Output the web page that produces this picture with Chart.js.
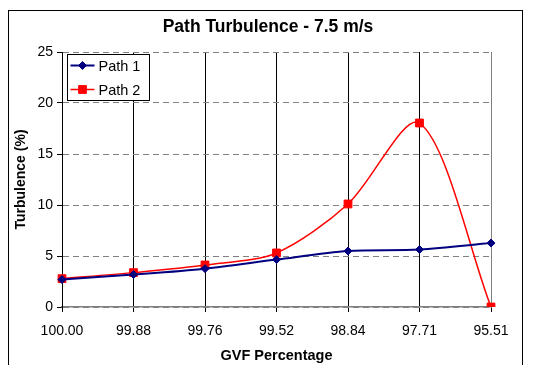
<!DOCTYPE html>
<html>
<head>
<meta charset="utf-8">
<script src="https://cdn.jsdelivr.net/npm/chart.js@4.4.1/dist/chart.umd.min.js"></script>
<style>
    html, body { margin: 0; padding: 0; background: #ffffff; }
    #wrap { position: relative; width: 544px; height: 365px; }
</style>
</head>
<body>
<div id="wrap"><canvas id="turbChart"></canvas></div>
<script>
/* ==========================================================
   DATA
========================================================== */

const chartTitle = "Path Turbulence - 7.5 m/s";

const gvfLabels = ["100.00", "99.88", "99.76", "99.52", "98.84", "97.71", "95.51"];

const path1 = [2.69, 3.18, 3.76, 4.65, 5.49, 5.63, 6.27];

const path2 = [2.78, 3.37, 4.12, 5.30, 10.10, 18.04, 0.0];

const yTicks = [0, 5, 10, 15, 20, 25];

const FONT = "Arial, 'Liberation Sans', sans-serif";

/* ==========================================================
   PLUGINS
========================================================== */

// outer frame, title and legend box inside the plot
const framePlugin = {
    id: "frame",
    afterDraw(chart) {
        const ctx = chart.ctx;
        const area = chart.chartArea;
        ctx.save();
        ctx.strokeStyle = "#000000";
        ctx.lineWidth = 1;
        ctx.strokeRect(8.5, 10.5, 514, 370);

        // title
        ctx.fillStyle = "#000000";
        ctx.font = "bold 17.5px " + FONT;
        ctx.textAlign = "center";
        ctx.textBaseline = "middle";
        ctx.fillText(chartTitle, 268, 27);

        // legend
        const bx = area.left + 5.5;
        const by = area.top + 2.5;
        ctx.fillStyle = "#ffffff";
        ctx.fillRect(bx, by, 82, 46);
        ctx.strokeRect(bx, by, 82, 46);

        chart.data.datasets.forEach((ds, i) => {
            const y = by + 11 + i * 24;
            ctx.strokeStyle = ds.borderColor;
            ctx.lineWidth = ds.borderWidth;
            ctx.beginPath();
            ctx.moveTo(bx + 3, y);
            ctx.lineTo(bx + 27, y);
            ctx.stroke();
            ctx.fillStyle = ds.borderColor;
            ctx.lineWidth = 1;
            Chart.helpers.drawPoint(ctx, {
                pointStyle: ds.pointStyle,
                radius: ds.pointRadius,
                borderWidth: 1
            }, bx + 15, y);
            ctx.fillStyle = "#000000";
            ctx.font = "14.5px " + FONT;
            ctx.textAlign = "left";
            ctx.textBaseline = "middle";
            ctx.fillText(ds.label, bx + 31, y + 1);
        });
        ctx.restore();
    }
};

/* ==========================================================
   CHART
========================================================== */

const ctx = document.getElementById("turbChart").getContext("2d");

const turbChart = new Chart(ctx, {
    type: "line",
    data: {
        labels: gvfLabels,
        datasets: [
            {
                label: "Path 1",
                data: path1,
                borderColor: "#000080",
                backgroundColor: "#000080",
                pointBackgroundColor: "#000080",
                pointBorderColor: "#000080",
                borderWidth: 2,
                pointStyle: "rectRot",
                pointRadius: 4,
                pointBorderWidth: 1,
                tension: 0.3
            },
            {
                label: "Path 2",
                data: path2,
                borderColor: "#ff0000",
                backgroundColor: "#ff0000",
                pointBackgroundColor: "#ff0000",
                pointBorderColor: "#ff0000",
                borderWidth: 1.5,
                pointStyle: "rect",
                pointRadius: 5.5,
                pointBorderWidth: 1,
                tension: 0.3
            }
        ]
    },
    options: {
        responsive: true,
        maintainAspectRatio: false,
        animation: false,
        layout: {
            padding: { top: 52, right: 53, bottom: 0, left: 13 }
        },
        plugins: {
            legend: { display: false },
            tooltip: { enabled: false },
            title: { display: false }
        },
        scales: {
            x: {
                type: "category",
                offset: false,
                afterFit: s => { s.height = 58; },
                grid: {
                    color: c => c.index === gvfLabels.length - 1 ? "#808080" : "#000000",
                    lineWidth: 1,
                    tickLength: 5,
                    tickColor: "#000000"
                },
                border: { color: "#808080", width: 1.5 },
                ticks: {
                    color: "#000000",
                    font: { family: FONT, size: 14 },
                    padding: 11,
                    maxRotation: 0
                },
                title: {
                    display: true,
                    text: "GVF Percentage",
                    color: "#000000",
                    font: { family: FONT, size: 14.5, weight: "bold" },
                    padding: { top: 4, bottom: 0 }
                }
            },
            y: {
                min: 0,
                max: 25,
                afterFit: s => { s.width = 49; },
                afterBuildTicks: s => { s.ticks = yTicks.map(v => ({ value: v })); },
                grid: {
                    color: "#808080",
                    lineWidth: 1,
                    tickLength: 5,
                    tickColor: "#000000",
                    tickBorderDash: []
                },
                border: { color: "#000000", width: 1, dash: [6, 4] },
                ticks: {
                    color: "#000000",
                    font: { family: FONT, size: 14 },
                    padding: 4
                },
                title: {
                    display: true,
                    text: "Turbulence (%)",
                    color: "#000000",
                    font: { family: FONT, size: 14, weight: "bold" },
                    padding: { top: 0, bottom: 4 }
                }
            }
        }
    },
    plugins: [framePlugin]
});
</script>
</body>
</html>
